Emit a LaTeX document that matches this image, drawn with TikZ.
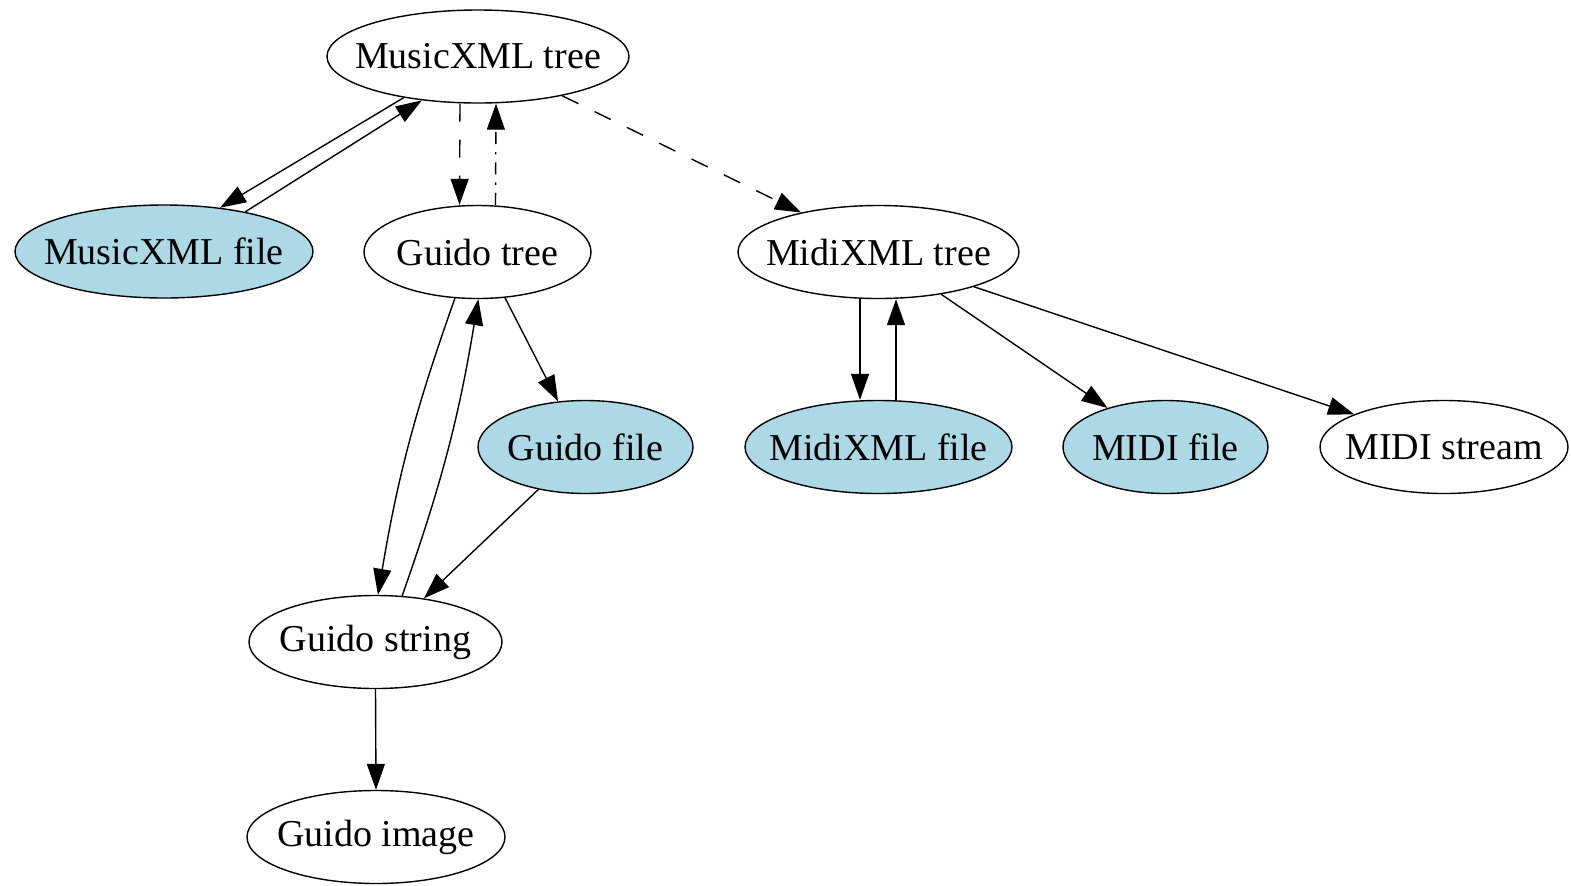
\documentclass[tikz,border=0pt]{standalone}
\usepackage{fontspec}
\setmainfont{Liberation Serif}
\usetikzlibrary{arrows.meta,calc,shapes.geometric}
\definecolor{lb}{RGB}{173,216,230}
\newcommand{\nlab}[1]{\makebox[0pt]{#1}}
\begin{document}
\begin{tikzpicture}[x=0.5pt,y=-0.5pt,
  nd/.style={ellipse,draw,line width=0.7pt,inner sep=0pt,minimum height=46.5pt,font=\fontsize{19}{22}\selectfont},
  fl/.style={nd,fill=lb},
  ed/.style={line width=0.7pt,-{Triangle[length=13pt,width=9pt]}},
  dsh/.style={dash pattern=on 9pt off 9pt},
  dshdot/.style={dash pattern=on 6pt off 4pt on 1.2pt off 4pt}]
\useasboundingbox (0,0) rectangle (1571,885);
\node[nd, minimum width=151pt] (mxt)   at (478,56.5) {\nlab{MusicXML tree}};
\node[fl, minimum width=149pt] (mxf)   at (164,251.5) {\nlab{MusicXML file}};
\node[nd, minimum width=113.5pt] (gt)  at (477.5,252) {\nlab{Guido tree}};
\node[nd, minimum width=140.5pt] (midt) at (878.5,252) {\nlab{MidiXML tree}};
\node[fl, minimum width=107.5pt] (gf)  at (585.5,447) {\nlab{Guido file}};
\node[fl, minimum width=133.5pt] (midxf) at (878.5,447) {\nlab{MidiXML file}};
\node[fl, minimum width=102.5pt] (midif) at (1165.5,447) {\nlab{MIDI file}};
\node[nd, minimum width=124pt] (mids)  at (1444,447) {\nlab{MIDI stream}};
\node[nd, minimum width=126.5pt] (gs)  at (375.5,642) {\nlab{Guido string}};
\node[nd, minimum width=129pt] (gi)    at (376,837) {\nlab{Guido image}};

\draw[ed] (mxt.209.4) -- (mxf.38.1);
\draw[ed] (mxf.26.3) -- (mxt.218.7);
\draw[ed,dsh] ($(mxt.south)+(-18,0)$) -- ($(gt.north)+(-18,0)$);
\draw[ed,dshdot] ($(gt.north)+(18,0)$) -- ($(mxt.south)+(18,0)$);
\draw[ed,dsh] (mxt.335) -- (midt.153);
\draw[ed] (gt.244) to[bend right=5] (gs.87);
\draw[ed] (gs.60.5) to[bend right=5] (gt.271.8);
\draw[ed] (gt.301) -- (gf.121.8);
\draw[ed] (gf.222.9) -- (gs.42.3);
\draw[ed] (gs.south) -- (gi.north);
\draw[ed] ($(midt.south)+(-18.5,0)$) -- ($(midxf.north)+(-18.5,0)$);
\draw[ed] ($(midxf.north)+(17.5,0)$) -- ($(midt.south)+(17.5,0)$);
\draw[ed] (midt.326.5) -- (midif.146.3);
\draw[ed] (midt.340.5) -- (mids.160);
\end{tikzpicture}
\end{document}
